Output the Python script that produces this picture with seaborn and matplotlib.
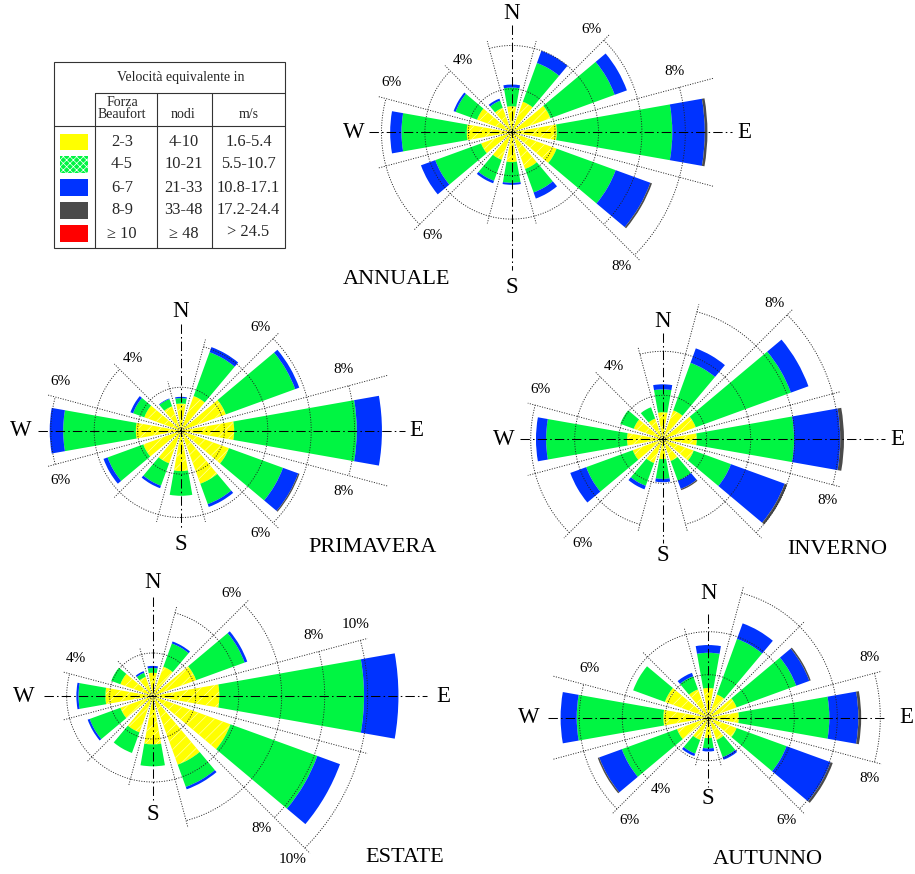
import numpy as np
import matplotlib
matplotlib.use("Agg")
import matplotlib.pyplot as plt
from matplotlib.patches import Rectangle
import seaborn as sns

sns.set_theme(style="white")
plt.rcParams["font.family"] = ["Liberation Serif", "DejaVu Serif"]

# ---------------------------------------------------------------- data
BEARINGS = [0, 30, 60, 90, 120, 150, 180, 210, 240, 270, 300, 330]

# frequency (%) of each Beaufort class per 30-degree sector
ANNUALE_B23 = [1.20, 1.50, 1.90, 2.08, 2.20, 1.80, 1.37, 1.35, 1.50, 2.07, 1.70, 1.20]
ANNUALE_B45 = [0.86, 1.90, 3.15, 5.32, 2.90, 1.15, 0.96, 1.03, 2.25, 3.01, 1.05, 0.35]
ANNUALE_B67 = [0.14, 0.60, 0.60, 1.50, 1.70, 0.30, 0.09, 0.12, 0.70, 0.52, 0.10, 0.10]
ANNUALE_B89 = [0.00, 0.00, 0.00, 0.12, 0.08, 0.00, 0.00, 0.00, 0.00, 0.00, 0.00, 0.00]

PRIMAVERA_B23 = [1.25, 1.70, 2.20, 2.45, 2.35, 2.60, 1.86, 1.60, 1.85, 2.08, 1.80, 1.20]
PRIMAVERA_B45 = [0.25, 2.15, 3.40, 5.65, 2.65, 1.00, 1.14, 1.10, 1.75, 3.35, 0.55, 0.35]
PRIMAVERA_B67 = [0.06, 0.25, 0.20, 1.16, 0.75, 0.14, 0.00, 0.12, 0.20, 0.62, 0.13, 0.03]
PRIMAVERA_B89 = [0.00, 0.00, 0.00, 0.00, 0.06, 0.00, 0.00, 0.00, 0.00, 0.00, 0.00, 0.00]

INVERNO_B23 = [1.23, 1.40, 1.60, 1.55, 1.50, 1.05, 0.90, 1.15, 1.45, 1.62, 1.40, 1.00]
INVERNO_B45 = [1.04, 2.30, 4.60, 4.42, 1.80, 0.95, 0.90, 1.10, 2.25, 3.68, 0.65, 0.55]
INVERNO_B67 = [0.23, 0.70, 0.85, 2.10, 2.60, 0.40, 0.15, 0.17, 0.77, 0.46, 0.00, 0.00]
INVERNO_B89 = [0.00, 0.00, 0.00, 0.17, 0.12, 0.06, 0.00, 0.00, 0.00, 0.00, 0.00, 0.00]

ESTATE_B23 = [1.08, 1.45, 2.15, 3.10, 3.85, 3.40, 2.25, 1.80, 1.60, 2.20, 1.60, 0.95]
ESTATE_B45 = [0.22, 1.15, 2.40, 6.73, 4.30, 1.10, 1.02, 1.02, 1.52, 1.25, 0.45, 0.20]
ESTATE_B67 = [0.10, 0.10, 0.13, 1.60, 1.12, 0.12, 0.00, 0.00, 0.10, 0.10, 0.00, 0.08]
ESTATE_B89 = [0.00, 0.00, 0.00, 0.00, 0.00, 0.00, 0.00, 0.00, 0.00, 0.00, 0.00, 0.00]

AUTUNNO_B23 = [1.38, 1.15, 1.40, 1.42, 1.40, 1.10, 0.95, 1.10, 1.55, 2.09, 2.15, 1.40]
AUTUNNO_B45 = [1.64, 2.75, 2.95, 4.21, 2.47, 0.85, 0.48, 0.68, 2.73, 4.03, 1.57, 0.65]
AUTUNNO_B67 = [0.36, 0.77, 0.65, 1.35, 2.18, 0.13, 0.14, 0.12, 1.12, 0.75, 0.00, 0.17]
AUTUNNO_B89 = [0.00, 0.00, 0.07, 0.13, 0.11, 0.00, 0.00, 0.00, 0.07, 0.00, 0.00, 0.00]

# outer reference ring (%) drawn around each sector
ANNUALE_RING = [4, 4, 6, 8, 8, 4, 4, 4, 6, 6, 4, 2]
PRIMAVERA_RING = [2, 4, 6, 8, 6, 4, 4, 4, 4, 6, 4, 2]
INVERNO_RING = [4, 6, 8, 8, 6, 4, 2, 4, 6, 6, 4, 2]
ESTATE_RING = [2, 4, 6, 10, 10, 6, 4, 4, 4, 4, 2, 2]
AUTUNNO_RING = [4, 6, 6, 8, 6, 2, 2, 2, 6, 6, 4, 4]

# percentage labels: (sector-boundary bearing, ring level)
ANNUALE_LABELS = [(315, 4), (45, 6), (75, 8), (285, 6), (225, 6), (135, 8)]
PRIMAVERA_LABELS = [(315, 4), (45, 6), (75, 8), (285, 6), (255, 6), (105, 8), (135, 6)]
INVERNO_LABELS = [(315, 4), (45, 8), (105, 8), (285, 6), (225, 6)]
ESTATE_LABELS = [(285, 4), (45, 6), (75, 8), (75, 10), (135, 8), (135, 10)]
AUTUNNO_LABELS = [(285, 6), (225, 4), (225, 6), (75, 8), (105, 8), (135, 6)]

# legend table
CLASS_BEAUFORT = ["2-3", "4-5", "6-7", "8-9", "\u2265 10"]
CLASS_KNOTS = ["4-10", "10-21", "21-33", "33-48", "\u2265 48"]
CLASS_MS = ["1.6-5.4", "5.5-10.7", "10.8-17.1", "17.2-24.4", "> 24.5"]

# ---------------------------------------------------------------- style
COLORS = sns.color_palette(["#ffff00", "#00f542", "#0033ff", "#4a4a4a", "#ff0000"])
FIG_W, FIG_H = 915, 874
RMAX = 14.0
DOT = dict(color="#222222", lw=0.65, ls=(0, (1.2, 1.6)), zorder=4)
AXLINE = dict(color="black", lw=0.75, ls=(0, (9, 3, 1.5, 3)), zorder=5)

fig = plt.figure(figsize=(FIG_W / 100, FIG_H / 100), dpi=100)
fig.patch.set_facecolor("white")

# pixel-space layer for the legend table and captions
page = fig.add_axes([0, 0, 1, 1])
page.set_xlim(0, FIG_W)
page.set_ylim(FIG_H, 0)
page.set_axis_off()


def draw_rose(cx, cy, ppp, layers, rings, labels, axlen, letters, title, title_xy):
    R = RMAX * ppp
    ax = fig.add_axes([(cx - R) / FIG_W, (FIG_H - cy - R) / FIG_H,
                       2 * R / FIG_W, 2 * R / FIG_H], projection="polar")
    ax.set_theta_zero_location("N")
    ax.set_theta_direction(-1)
    ax.set_ylim(0, RMAX)
    ax.set_axis_off()
    ax.patch.set_alpha(0)

    theta = np.deg2rad(BEARINGS)
    width = np.deg2rad(20)
    bottom = np.zeros(len(BEARINGS))
    for i, vals in enumerate(layers):
        vals = np.asarray(vals, float)
        if i == 0:
            plt.rcParams["hatch.linewidth"] = 0.45
            ax.bar(theta, vals, width=width, bottom=bottom, facecolor=COLORS[0],
                   edgecolor="#ffffb4", linewidth=0, hatch="///", zorder=2)
        else:
            ax.bar(theta, vals, width=width, bottom=bottom, facecolor=COLORS[i],
                   edgecolor="none", linewidth=0, zorder=2)
        bottom += vals
    totals = bottom

    # dotted sector frames
    n = len(BEARINGS)
    for k, b in enumerate(BEARINGS):
        t = np.deg2rad(np.linspace(b - 15, b + 15, 40))
        for lev in range(2, rings[k] + 1, 2):
            ax.plot(t, np.full_like(t, lev), **DOT)
    reach = []
    for k in range(n):
        over = totals[k] - rings[k]
        reach.append(totals[k] + 0.6 if 0.5 < over < 1.4 else rings[k] + 0.35)
    for k in range(n):
        b = np.deg2rad(BEARINGS[k] + 15)
        r = max(reach[k], reach[(k + 1) % n])
        ax.plot([b, b], [0, r], **DOT)

    # compass cross
    up, down, left, right = (v / ppp for v in axlen)
    ax.plot([0, 0, np.pi], [up, 0, down], **AXLINE)
    ax.plot([1.5 * np.pi, 0, 0.5 * np.pi], [left, 0, right], **AXLINE)
    for ang, dist, s in zip([0, np.pi, 1.5 * np.pi, 0.5 * np.pi], letters, "NSWE"):
        ax.text(ang, dist / ppp, s, ha="center", va="center", fontsize=16.5,
                color="black", clip_on=False)

    # percentage labels beside the sector boundaries
    for b, lev in labels:
        k = BEARINGS.index((b - 15) % 360)
        side = -1 if rings[k] < rings[(k + 1) % n] else 1
        off = np.degrees(np.arctan(17.0 / (lev * ppp)))
        ax.text(np.deg2rad(b + side * off), lev, f"{lev}%", ha="center",
                va="center", fontsize=11, color="black", clip_on=False)

    page.text(title_xy[0], title_xy[1], title, ha="center", va="center",
              fontsize=16, color="black")


draw_rose(511.7, 132.3, 21.7,
          [ANNUALE_B23, ANNUALE_B45, ANNUALE_B67, ANNUALE_B89],
          ANNUALE_RING, ANNUALE_LABELS,
          (107, 138, 143, 220), (119, 155, 158, 233), "ANNUALE", (397, 280))
draw_rose(181.0, 430.7, 21.7,
          [PRIMAVERA_B23, PRIMAVERA_B45, PRIMAVERA_B67, PRIMAVERA_B89],
          PRIMAVERA_RING, PRIMAVERA_LABELS,
          (107, 97, 143, 224), (119, 114, 160, 235), "PRIMAVERA", (373, 547))
draw_rose(662.7, 439.3, 22.0,
          [INVERNO_B23, INVERNO_B45, INVERNO_B67, INVERNO_B89],
          INVERNO_RING, INVERNO_LABELS,
          (106, 104, 143, 222), (118, 116, 159, 235), "INVERNO", (837, 550))
draw_rose(152.7, 696.0, 21.5,
          [ESTATE_B23, ESTATE_B45, ESTATE_B67, ESTATE_B89],
          ESTATE_RING, ESTATE_LABELS,
          (99, 104, 109, 274), (114, 119, 129, 291), "ESTATE", (405, 857))
draw_rose(708.3, 717.7, 21.5,
          [AUTUNNO_B23, AUTUNNO_B45, AUTUNNO_B67, AUTUNNO_B89],
          AUTUNNO_RING, AUTUNNO_LABELS,
          (104, 69, 160, 178), (124, 81, 180, 198), "AUTUNNO", (768, 860))

# ---------------------------------------------------------------- legend table
TL = dict(color="#333333", lw=0.8)
x0, x1, y0, y1 = 54, 285, 62, 248
page.add_patch(Rectangle((x0, y0), x1 - x0, y1 - y0, fill=False, ec="#333333", lw=0.8))
page.plot([95, x1], [93.3, 93.3], **TL)
page.plot([x0, x1], [125.7, 125.7], **TL)
for xv in (95, 156.7, 211.7):
    page.plot([xv, xv], [93.3, y1], **TL)
page.text(181, 77.5, "Velocit\u00e0 equivalente in", ha="center", va="center",
          fontsize=10)
page.text(122, 108.5, "Forza\nBeaufort", ha="center", va="center", fontsize=10,
          linespacing=0.82)
page.text(183.5, 114, "nodi", ha="center", va="center", fontsize=10)
page.text(248.5, 114, "m/s", ha="center", va="center", fontsize=10)
row_y = [142, 164.5, 187.5, 210.5, 233.5]
plt.rcParams["hatch.linewidth"] = 0.5
for i, y in enumerate(row_y):
    if i == 1:
        page.add_patch(Rectangle((60, y - 8.3), 28.3, 16.6, facecolor=COLORS[i],
                                 edgecolor="white", lw=0, hatch="xxxxx"))
    else:
        page.add_patch(Rectangle((60, y - 8.3), 28.3, 16.6, facecolor=COLORS[i],
                                 edgecolor="none", lw=0))
    page.text(122, y, CLASS_BEAUFORT[i], ha="center", va="center", fontsize=11.8)
    page.text(183.5, y, CLASS_KNOTS[i], ha="center", va="center", fontsize=11.8)
    page.text(248.5, y - (2 if i == 4 else 0), CLASS_MS[i], ha="center",
              va="center", fontsize=11.8)

fig.savefig("out.png", dpi=100, facecolor="white")
